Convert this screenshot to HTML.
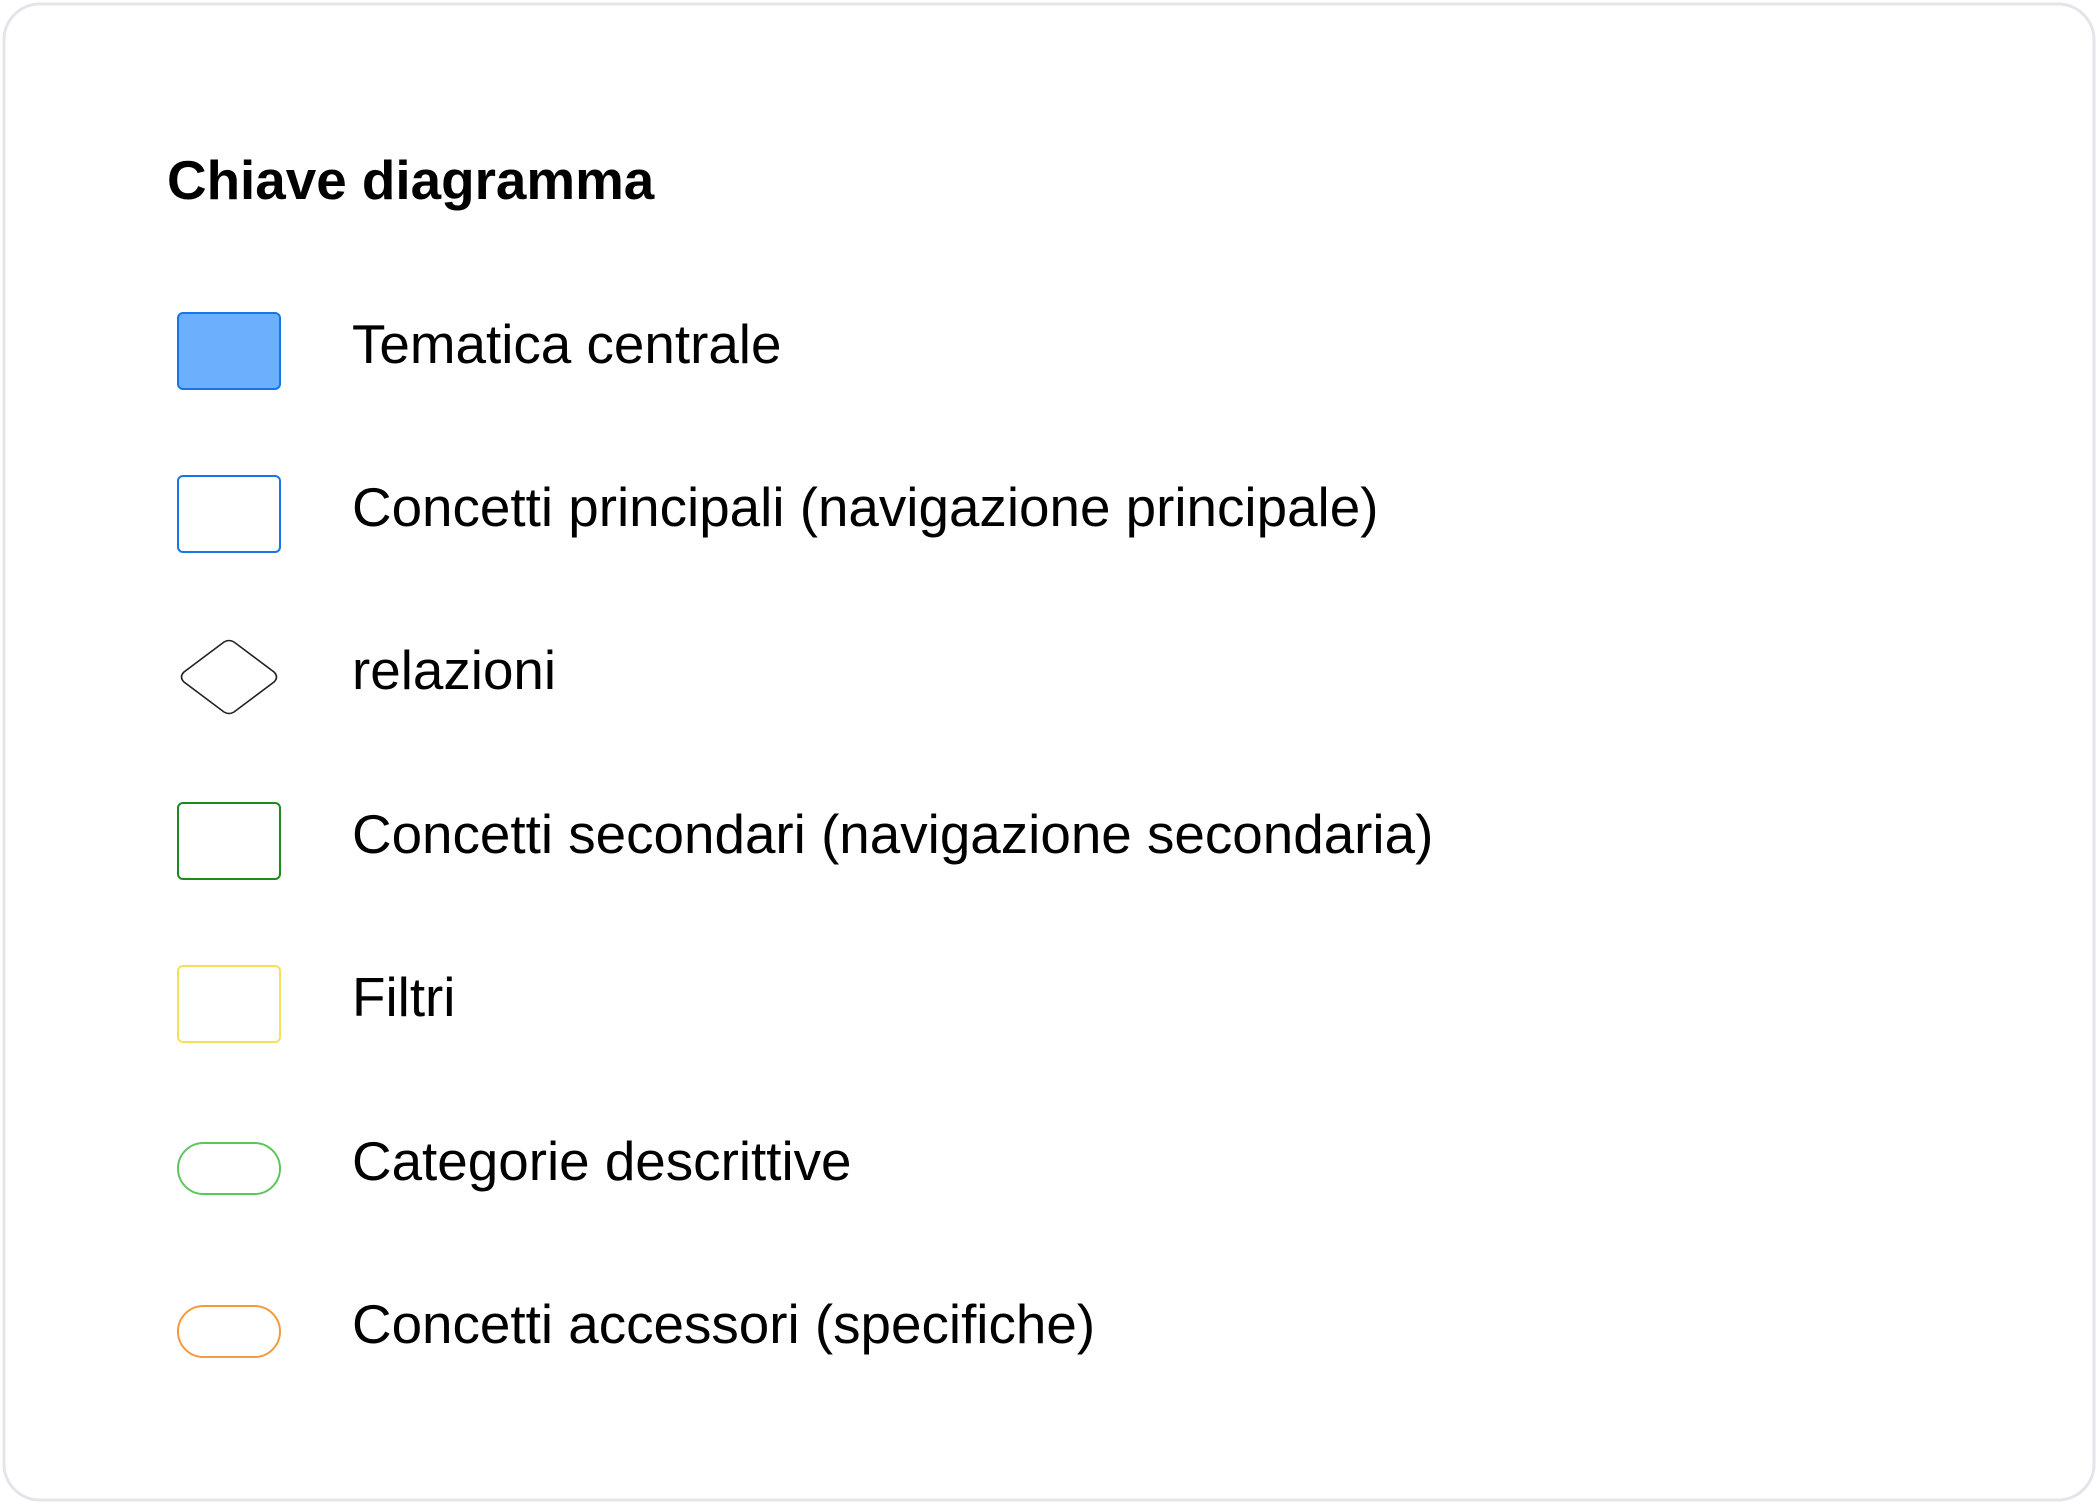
<!DOCTYPE html>
<html><head><meta charset="utf-8"><style>
html,body{margin:0;padding:0;background:#fff;}
body{width:2098px;height:1504px;position:relative;overflow:hidden;font-family:"Liberation Sans",sans-serif;}
</style></head><body>
<svg width="2098" height="1504" xmlns="http://www.w3.org/2000/svg" style="position:absolute;left:0;top:0">
<rect x="4" y="4" width="2090" height="1496" rx="36" fill="#fff" stroke="#e2e5ea" stroke-width="3"/>
<text x="167" y="199" font-family="Liberation Sans, sans-serif" font-weight="bold" font-size="54.8" fill="#000">Chiave diagramma</text>

<rect x="178" y="313" width="102" height="76" rx="5" fill="#6cb0fd" stroke="#1a73e8" stroke-width="2"/>
<text x="352" y="363" font-family="Liberation Sans, sans-serif" font-size="54.8" fill="#000">Tematica centrale</text>

<rect x="178" y="476" width="102" height="76" rx="5" fill="#fff" stroke="#1a73e8" stroke-width="2"/>
<text x="352" y="526" font-family="Liberation Sans, sans-serif" font-size="54.8" fill="#000">Concetti principali (navigazione principale)</text>

<path d="M224,642 Q229,639 234,642 L274,672 Q279,677 274,682 L234,712 Q229,715 224,712 L184,682 Q179,677 184,672 Z" fill="#fff" stroke="#222" stroke-width="1.6"/>
<text x="352" y="689" font-family="Liberation Sans, sans-serif" font-size="54.8" fill="#000">relazioni</text>

<rect x="178" y="803" width="102" height="76" rx="5" fill="#fff" stroke="#1e8a1e" stroke-width="2"/>
<text x="352" y="853" font-family="Liberation Sans, sans-serif" font-size="54.8" fill="#000">Concetti secondari (navigazione secondaria)</text>

<rect x="178" y="966" width="102" height="76" rx="5" fill="#fff" stroke="#f6e05a" stroke-width="2"/>
<text x="352" y="1016" font-family="Liberation Sans, sans-serif" font-size="54.8" fill="#000">Filtri</text>

<rect x="178" y="1143" width="102" height="51" rx="25.5" fill="#fff" stroke="#5cc65c" stroke-width="2"/>
<text x="352" y="1180" font-family="Liberation Sans, sans-serif" font-size="54.8" fill="#000">Categorie descrittive</text>

<rect x="178" y="1306" width="102" height="51" rx="25.5" fill="#fff" stroke="#f59a3c" stroke-width="2"/>
<text x="352" y="1343" font-family="Liberation Sans, sans-serif" font-size="54.8" fill="#000">Concetti accessori (specifiche)</text>
</svg>
</body></html>
